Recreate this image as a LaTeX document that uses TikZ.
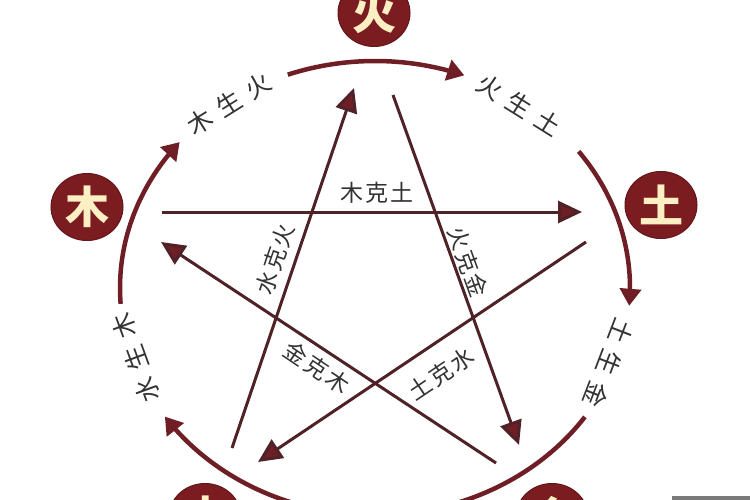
\documentclass[tikz,border=0pt]{standalone}
\usepackage{fontspec}
\newfontfamily\cjk{Noto Sans CJK SC}
\usetikzlibrary{arrows.meta,shapes.geometric}
\definecolor{arcred}{HTML}{6E1E24}
\definecolor{nodefill}{HTML}{7B1C20}
\definecolor{cream}{HTML}{FCEFC4}
\definecolor{starline}{HTML}{4E2227}
\definecolor{labelgray}{HTML}{333333}
\definecolor{wmgray}{HTML}{7A7A7A}
\begin{document}
\begin{tikzpicture}[x=1pt,y=-1pt,
  elem/.style={ellipse, fill=nodefill, draw=nodefill!80!black, line width=1pt,
    minimum width=72pt, minimum height=67pt, inner sep=0pt, text=cream,
    font=\cjk\bfseries\fontsize{44}{44}\selectfont},
  cyc/.style={draw=arcred, line width=4.5pt, -{Triangle[length=17pt,width=21pt]}},
  ke/.style={draw=starline, line width=3pt, -{Triangle[length=24pt,width=22pt,fill=arcred]}},
  outlab/.style={text=labelgray, inner sep=0pt, font=\cjk\fontsize{25}{25}\selectfont},
  kelab/.style={text=labelgray, inner sep=0pt, font=\cjk\fontsize{23}{23}\selectfont}]
\useasboundingbox (0,0) rectangle (750,500);
\clip (0,0) rectangle (750,500);
% generating cycle (outer arcs)
\draw[cyc] plot[domain=176:220, samples=40] ({375+255*cos(\x)},{288+227*sin(\x)});
\draw[cyc] plot[domain=250:290.5, samples=40] ({375+255*cos(\x)},{288+227*sin(\x)});
\draw[cyc] plot[domain=-37:4.5, samples=40] ({375+255*cos(\x)},{288+227*sin(\x)});
\draw[cyc] plot[domain=34.6:145.5, samples=80] ({375+255*cos(\x)},{288+227*sin(\x)});
% controlling cycle (star)
\coordinate (muS) at (162,212);  \coordinate (tuE) at (582,212);
\coordinate (tuS) at (586,242);  \coordinate (shuiE) at (258,462);
\coordinate (shuiS) at (232,448); \coordinate (huoE) at (354,88);
\coordinate (huoS) at (393,95);  \coordinate (jinE) at (519,445);
\coordinate (jinS) at (496,463); \coordinate (muE) at (161,242);
\draw[ke] (muS) -- (tuE);
\draw[ke] (tuS) -- (shuiE);
\draw[ke] (shuiS) -- (huoE);
\draw[ke] (huoS) -- (jinE);
\draw[ke] (jinS) -- (muE);
% elements
\node[elem] (huo) at (374,13) {火};
\node[elem] (mu) at (87,207) {木};
\node[elem] (tu) at (661,205) {土};
\node[elem] (shui) at (205,517) {水};
\node[elem] (jin) at (552,517) {金};
% outer labels
\node[outlab, rotate=32] (l1) at (229,104) {木\hspace{9pt}生\hspace{9pt}火};
\node[outlab, rotate=-32] (l2) at (519,105) {火\hspace{9pt}生\hspace{9pt}土};
\node[outlab, rotate=-111] (l3) at (609,363) {土\hspace{9pt}生\hspace{9pt}金};
\node[outlab, rotate=110] (l4) at (136,358) {水\hspace{9pt}生\hspace{9pt}木};
% star labels
\node[kelab] (k1) at (377,193) {木\hspace{2pt}克\hspace{2pt}土};
\node[kelab, rotate=71] (k2) at (275,259) {水\hspace{2pt}克\hspace{2pt}火};
\node[kelab, rotate=-70] (k3) at (468,262) {火\hspace{2pt}克\hspace{2pt}金};
\node[kelab, rotate=-34] (k4) at (317,368) {金\hspace{2pt}克\hspace{2pt}木};
\node[kelab, rotate=34] (k5) at (441,374) {土\hspace{2pt}克\hspace{2pt}水};
% watermark bar
\fill[wmgray] (672,496) rectangle (750,500);
\end{tikzpicture}
\end{document}
